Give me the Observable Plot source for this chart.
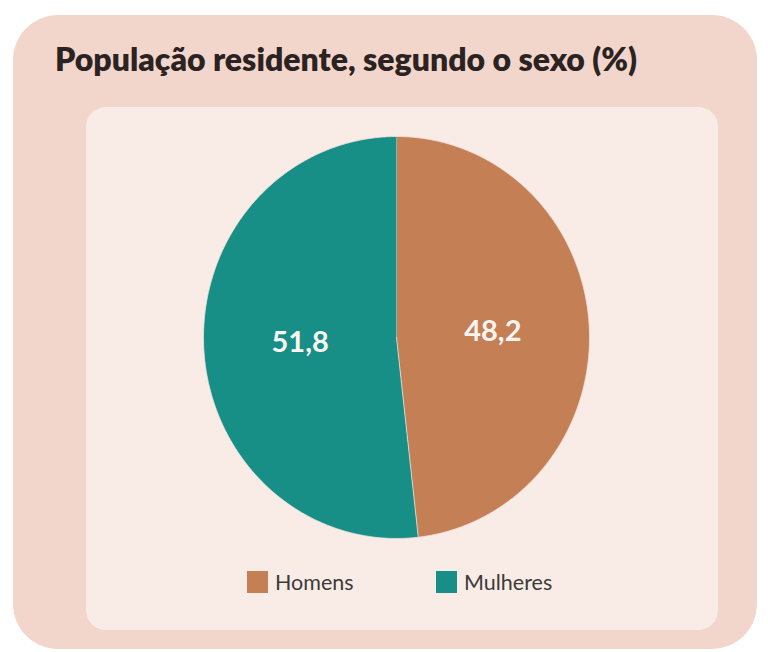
<!DOCTYPE html>
<html><head><meta charset="utf-8">
<script src="https://cdn.jsdelivr.net/npm/d3@7"></script>
<script src="https://cdn.jsdelivr.net/npm/@observablehq/plot@0.6"></script>
<style>
body{margin:0;background:#fff;width:768px;height:652px;position:relative;overflow:hidden;font-family:Lato,"Noto Sans",sans-serif}
#card{position:absolute;left:13px;top:15px;width:744px;height:634px;background:#f2d6cc;border-radius:45px}
#panel{position:absolute;left:86px;top:107px;width:632px;height:523px;background:#f9ece7;border-radius:20px}
#title{position:absolute;left:55px;top:43px;font-weight:800;font-size:32px;line-height:32px;color:#2a2321;white-space:nowrap}
#chart{position:absolute;left:0;top:0}
.sw{position:absolute;width:21px;height:22px}
.lt{position:absolute;font-size:21.5px;line-height:22px;color:#3d3a39;white-space:nowrap}
</style></head>
<body>
<div id="card"></div>
<div id="panel"></div>
<div id="title">População residente, segundo o sexo (%)</div>
<div id="chart"></div>
<div id="legend"></div>
<script>
const categories = ["Homens", "Mulheres"];
const values = [48.2, 51.8];
const valueLabels = ["48,2", "51,8"];
const colors = ["#c47f55", "#178f87"];

// slice polygons (clockwise from 12 o'clock)
const total = d3.sum(values);
const slices = [];
const labelRows = [];
let start = 0;
categories.forEach((c, i) => {
  const a0 = start, a1 = start + values[i] / total * 2 * Math.PI;
  slices.push({sexo: c, x: 0, y: 0});
  const n = Math.max(2, Math.ceil((a1 - a0) / (Math.PI / 360)));
  for (let k = 0; k <= n; k++) {
    const a = a0 + (a1 - a0) * k / n;
    slices.push({sexo: c, x: Math.sin(a), y: Math.cos(a)});
  }
  const m = (a0 + a1) / 2;
  labelRows.push({sexo: c, label: valueLabels[i], x: 0.5 * Math.sin(m), y: 0.5 * Math.cos(m)});
  start = a1;
});

const chart = Plot.plot({
  width: 768,
  height: 652,
  x: {domain: [-1, 1], range: [203, 589], axis: null},
  y: {domain: [-1, 1], range: [538, 136], axis: null},
  color: {domain: categories, range: colors},
  style: {background: "transparent", overflow: "visible"},
  marks: [
    Plot.line(slices, {x: "x", y: "y", z: "sexo", fill: "sexo", stroke: "#f3e2dc", strokeWidth: 0.8}),
    Plot.text(labelRows, {x: "x", y: "y", text: "label", fill: "#fbf5f2", fontSize: 29, fontWeight: 700, fontFamily: "Lato"})
  ]
});
document.getElementById("chart").appendChild(chart);

const legend = document.getElementById("legend");
const swX = [247, 436];
categories.forEach((c, i) => {
  const s = document.createElement("div");
  s.className = "sw"; s.style.left = swX[i] + "px"; s.style.top = "571px"; s.style.background = colors[i];
  legend.appendChild(s);
  const t = document.createElement("div");
  t.className = "lt"; t.style.left = (swX[i] + 28) + "px"; t.style.top = "571px"; t.textContent = c;
  legend.appendChild(t);
});
</script>
</body></html>
